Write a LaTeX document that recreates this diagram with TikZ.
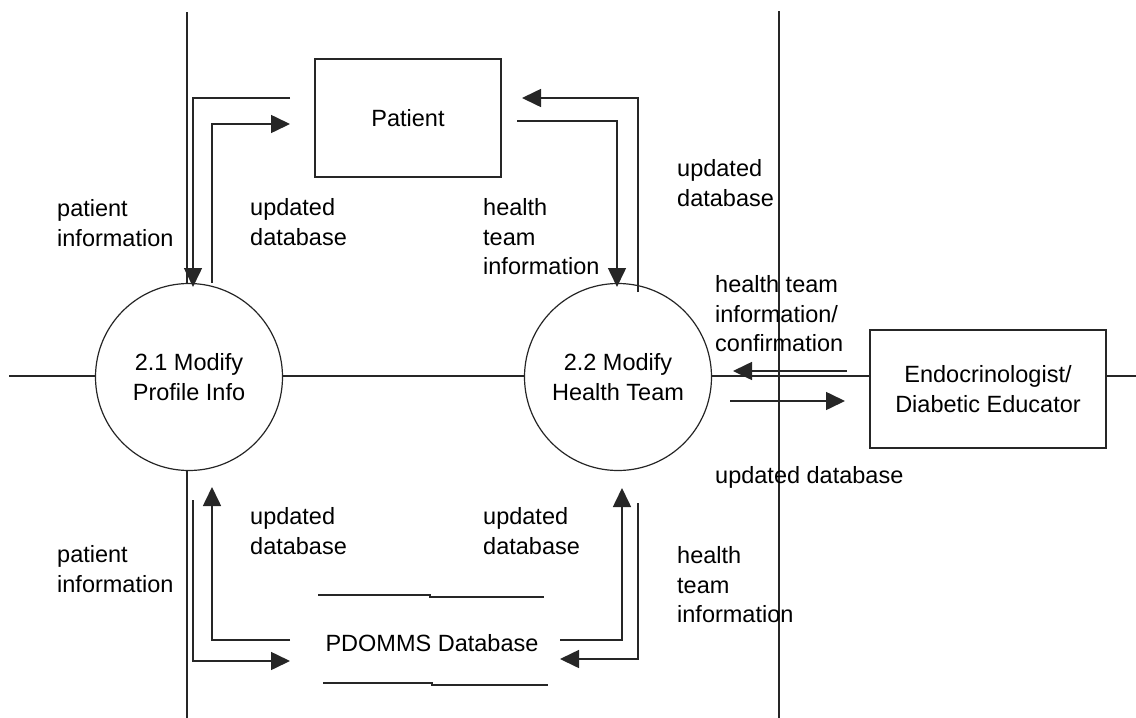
\documentclass[tikz,border=0pt]{standalone}
\usepackage{fontspec}
\setmainfont{Liberation Sans}
\usetikzlibrary{arrows.meta}
\begin{document}
\begin{tikzpicture}[x=1pt,y=-1pt,
  ln/.style={line width=1.6pt, draw=black!85},
  arr/.style={ln, -{Triangle[length=19pt,width=18pt]}},
  txt/.style={font=\fontsize{23.5}{29.5}\selectfont},
  lbl/.style={txt, align=left, anchor=west, inner sep=0pt},
  proc/.style={txt, circle, draw=black!85, line width=1.2pt, fill=white, minimum size=187pt, inner sep=0pt, align=center},
  ent/.style={txt, rectangle, draw=black!85, line width=1.6pt, fill=white, inner sep=0pt, align=center}
]
\useasboundingbox (0,0) rectangle (1136,718);

% boundary lines
\coordinate (v1t) at (187,12);  \coordinate (v1b) at (187,718);
\coordinate (v2t) at (779,11);  \coordinate (v2b) at (779,718);
\coordinate (hl) at (9,376);    \coordinate (hr) at (1136,376);
\draw[ln] (v1t) -- (v1b);
\draw[ln] (v2t) -- (v2b);
\draw[ln] (hl) -- (hr);

% nodes
\node[ent, minimum width=186pt, minimum height=118pt] (patient) at (408,118) {Patient};
\node[ent, minimum width=236pt, minimum height=118pt] (endo) at (988,389) {Endocrinologist/\\Diabetic Educator};
\node[proc] (p21) at (189,377) {2.1 Modify\\Profile Info};
\node[proc] (p22) at (618,377) {2.2 Modify\\Health Team};
\node[txt, inner sep=0pt] (db) at (432,643) {PDOMMS Database};

% data store lines
\coordinate (dbt1) at (318,595); \coordinate (dbt2) at (430,595);
\coordinate (dbt3) at (430,597); \coordinate (dbt4) at (544,597);
\coordinate (dbb1) at (323,683); \coordinate (dbb2) at (432,683);
\coordinate (dbb3) at (432,685); \coordinate (dbb4) at (548,685);
\draw[ln, line width=1.3pt] (dbt1) -- (dbt2) -- (dbt3) -- (dbt4);
\draw[ln, line width=1.3pt] (dbb1) -- (dbb2) -- (dbb3) -- (dbb4);

% connector end points
\coordinate (a1s) at (290,98);  \coordinate (a1e) at (193,287);
\coordinate (a2s) at (212,283); \coordinate (a2e) at (290,124);
\coordinate (a3s) at (638,292); \coordinate (a3e) at (522,98);
\coordinate (a4s) at (517,121); \coordinate (a4e) at (617,287);
\coordinate (a5s) at (847,371); \coordinate (a5e) at (733,371);
\coordinate (a6s) at (730,401); \coordinate (a6e) at (845,401);
\coordinate (a7s) at (193,500); \coordinate (a7e) at (290,661);
\coordinate (a8s) at (290,640); \coordinate (a8e) at (212,487);
\coordinate (a9s) at (560,640); \coordinate (a9e) at (622,488);
\coordinate (a10s) at (638,503); \coordinate (a10e) at (560,659);

\draw[arr] (a1s) -| (a1e);
\draw[arr] (a2s) |- (a2e);
\draw[arr] (a3s) |- (a3e);
\draw[arr] (a4s) -| (a4e);
\draw[arr] (a5s) -- (a5e);
\draw[arr] (a6s) -- (a6e);
\draw[arr] (a7s) |- (a7e);
\draw[arr] (a8s) -| (a8e);
\draw[arr] (a9s) -| (a9e);
\draw[arr] (a10s) |- (a10e);

% labels
\node[lbl] (l1) at (57,223) {patient\\information};
\node[lbl] (l2) at (250,222) {updated\\database};
\node[lbl] (l3) at (483,237) {health\\team\\information};
\node[lbl] (l4) at (677,183) {updated\\database};
\node[lbl] (l5) at (715,314) {health team\\information/\\confirmation};
\node[lbl] (l6) at (715,477) {updated database};
\node[lbl] (l7) at (57,569) {patient\\information};
\node[lbl] (l8) at (250,531) {updated\\database};
\node[lbl] (l9) at (483,531) {updated\\database};
\node[lbl] (l10) at (677,585) {health\\team\\information};
\end{tikzpicture}
\end{document}
